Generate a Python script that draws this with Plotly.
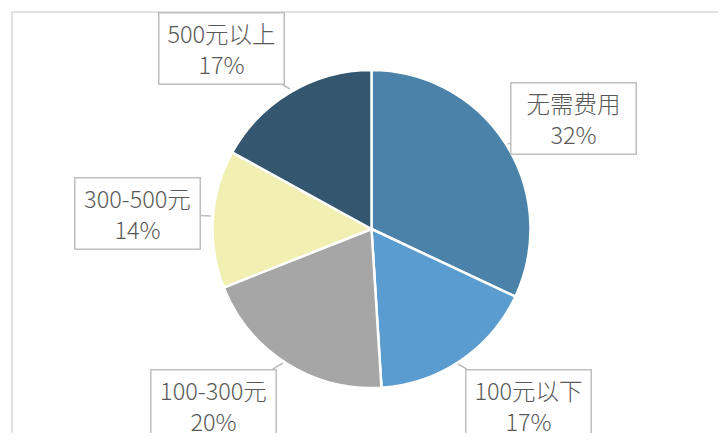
import plotly.graph_objects as go

# data
categories = ['无需费用', '100元以下', '100-300元', '300-500元', '500元以上']
shares = [32, 17, 20, 14, 17]
colors = ['#4a82aa', '#5a9ccf', '#a6a6a6', '#f1efb1', '#35566f']

# page body has an 8px margin, so the figure is 16px smaller than the window
OFF = 8
W, H = 726 - 2 * OFF, 441 - 2 * OFF


def px(x):
    return (x - OFF) / W


def py(y):
    return 1 - (y - OFF) / H


# label boxes: box centre and pointer tip, in window pixels
box_centres = [(573, 118), (528, 405), (213, 405), (137, 213), (221.5, 48.5)]
tips = [(508, 144), (458, 364), (283, 363), (211, 216), (290, 89)]

fig = go.Figure()

fig.add_trace(go.Pie(
    labels=categories,
    values=shares,
    sort=False,
    direction='clockwise',
    rotation=0,
    marker=dict(colors=colors, line=dict(color='white', width=2.5)),
    textinfo='none',
    hoverinfo='label+percent',
    showlegend=False,
    domain=dict(x=[px(212.5), px(530.5)], y=[py(388), py(70)]),
))

for cat, val, (bx, by), (tx, ty) in zip(categories, shares, box_centres, tips):
    fig.add_annotation(
        x=px(tx), y=py(ty), xref='paper', yref='paper',
        ax=bx - tx, ay=by - ty,
        text=f'{cat}<br>{val}%',
        showarrow=True, arrowhead=0, arrowwidth=1.5, arrowcolor='#bfbfbf',
        font=dict(family='Noto Sans CJK SC', size=23.5, color='#595959', weight=300),
        bgcolor='white', bordercolor='#bfbfbf', borderwidth=1.5,
        width=122, height=68, borderpad=1, align='center',
    )

# chart-area border (extends past the right and bottom edges)
fig.add_shape(type='rect', xref='paper', yref='paper',
              x0=px(12), x1=1.05, y0=-0.05, y1=py(12),
              line=dict(color='#d9d9d9', width=1.5), layer='below')

fig.update_layout(
    width=W, height=H,
    margin=dict(l=0, r=0, t=0, b=0),
    paper_bgcolor='white',
    plot_bgcolor='white',
)

fig.write_html('out.html')
